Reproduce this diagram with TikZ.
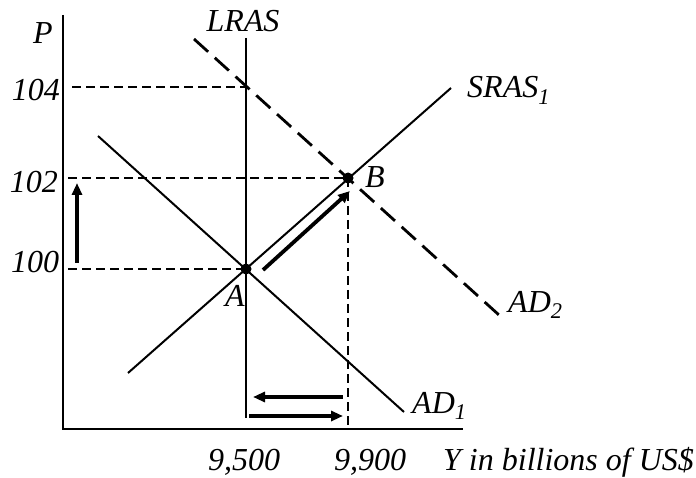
\documentclass[tikz,border=0pt]{standalone}
\usepackage{fontspec}
\setmainfont{Liberation Serif}
\usepackage{tikz}
\usetikzlibrary{positioning, arrows.meta}

\begin{document}
\begin{tikzpicture}[
  x=1pt, y=1pt,
  every node/.style={font=\fontsize{32}{37}\selectfont\itshape, inner sep=0pt},
  axis/.style={line width=2.3pt},
  curve/.style={line width=2pt},
  guide/.style={line width=2.6pt, dash pattern=on 9pt off 5pt},
  shifted/.style={line width=2.8pt, dash pattern=on 19pt off 9pt},
  move/.style={-{Triangle[length=12pt,width=10pt]}, line width=3.8pt},
  dot/.style={circle, fill, minimum size=11pt, inner sep=0pt}
]
\useasboundingbox (-63,-48) rectangle (633,429);

% axes
\coordinate (O) at (0,0);
\coordinate (ytop) at (0,414);
\coordinate (xend) at (400,0);
\draw[axis] (ytop) -- (O) -- (xend);

% equilibrium points
\node[dot] (A) at (183,160) {};
\node[dot] (B) at (285,251) {};

% curve end points
\coordinate (lrasT) at (183,391);
\coordinate (lrasB) at (183,11);
\coordinate (srasL) at (65,56);
\coordinate (srasR) at (388,341);
\coordinate (ad1L) at (35,293);
\coordinate (ad1R) at (341,17);
\coordinate (ad2L) at (131,390);
\coordinate (ad2R) at (436,114);
\coordinate (c104) at (183,342);

\draw[curve] (lrasT) -- (lrasB);
\draw[curve] (srasL) -- (srasR);
\draw[curve] (ad1L) -- (ad1R);
\draw[shifted] (ad2L) -- (ad2R);

% guide lines
\coordinate (g104) at (9,342);
\coordinate (g102) at (5,251);
\coordinate (g100) at (5,160);
\coordinate (gB) at (285,4);
\draw[guide] (g104) -- (c104);
\draw[guide] (g102) -- (B.center);
\draw[guide] (g100) -- (A.center);
\draw[guide] (B.center) -- (gB);

% movements
\coordinate (upS) at (14,166);
\coordinate (upE) at (14,246);
\coordinate (diagS) at (200,159);
\coordinate (diagE) at (287,238);
\coordinate (leftS) at (280,32);
\coordinate (leftE) at (190,32);
\coordinate (rightS) at (186,13);
\coordinate (rightE) at (280,13);
\draw[move] (upS) -- (upE);
\draw[move] (diagS) -- (diagE);
\draw[move] (leftS) -- (leftE);
\draw[move] (rightS) -- (rightE);

% labels
\node (lP) at (-20,396) {P};
\node (lLRAS) at (180,408) {LRAS};
\node (l104) at (-27,339) {104};
\node (l102) at (-29,247) {102};
\node (l100) at (-28,167) {100};
\node[anchor=base west] (lSRAS) at (404,331) {SRAS\textsubscript{1}};
\node[anchor=base west] (lB) at (302,241) {B};
\node[anchor=base west] (lA) at (162,122) {A};
\node[anchor=base west] (lAD2) at (445,117) {AD\textsubscript{2}};
\node[anchor=base west] (lAD1) at (349,16) {AD\textsubscript{1}};
\node[anchor=base] (l9500) at (181,-41) {9,500};
\node[anchor=base] (l9900) at (307,-41) {9,900};
\node[anchor=base west] (lY) at (380,-41) {Y in billions of US\$};
\end{tikzpicture}
\end{document}
